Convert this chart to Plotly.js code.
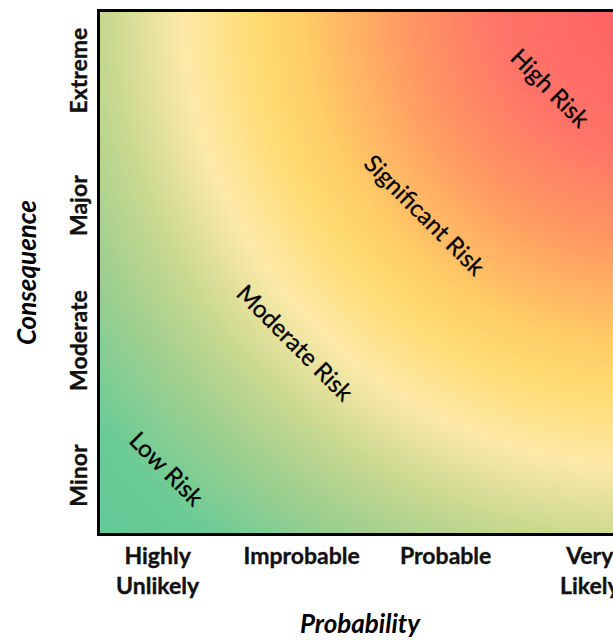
<!DOCTYPE html>
<html>
<head>
<meta charset="utf-8">
<script src="https://cdn.plot.ly/plotly-3.0.1.min.js"></script>
<style>
html, body { margin: 0; padding: 0; overflow: hidden; background: #fff; }
#chart { width: 630px; height: 640px; }
.xtick text, .ytick text { stroke: #111; stroke-width: 0.35px; }
.annotation-text { stroke: #000; stroke-width: 0.3px; }
</style>
</head>
<body>
<div id="chart"></div>
<script>
// Categories
const probabilityLabels = ["Highly<br>Unlikely", "Improbable", "Probable", "Very<br>Likely"];
const probabilityPos = [0.5, 1.5, 2.5, 3.5];
const consequenceLabels = ["Minor", "Moderate", "Major", "Extreme"];
const consequencePos = [0.5, 1.5, 2.5, 3.5];

// Risk zone labels (placed in category space)
const riskLabels = ["Low Risk", "Moderate Risk", "Significant Risk", "High Risk"];
const riskX = [0.57, 1.46, 2.36, 3.23];
const riskY = [0.58, 1.51, 2.46, 3.40];

// Background gradient (decoration)
const W = 520, H = 521;
const stops = [
  [0.00, "#ff5e62"], [0.19, "#ff7468"], [0.31, "#ff9a62"], [0.44, "#ffcf66"],
  [0.50, "#ffdc74"], [0.585, "#fde9a8"], [0.675, "#cad990"], [0.75, "#a4d08e"],
  [0.87, "#6acb96"], [1.00, "#5ec898"]
];
const svg = '<svg xmlns="http://www.w3.org/2000/svg" width="' + W + '" height="' + H +
  '" viewBox="0 0 ' + W + ' ' + H + '" preserveAspectRatio="none">' +
  '<defs><radialGradient id="g" gradientUnits="userSpaceOnUse" cx="550" cy="-12" r="800">' +
  stops.map(s => '<stop offset="' + s[0] + '" stop-color="' + s[1] + '"/>').join('') +
  '</radialGradient></defs><rect x="0" y="0" width="' + W + '" height="' + H + '" fill="url(#g)"/></svg>';
const bgSrc = 'data:image/svg+xml;charset=utf-8,' + encodeURIComponent(svg);

const FONT = "Lato, 'Open Sans', sans-serif";
const bold = s => s.split('<br>').map(p => '<b>' + p + '</b>').join('<br>');

const data = [{
  x: riskX, y: riskY, type: 'scatter', mode: 'markers',
  marker: { opacity: 0 }, hoverinfo: 'skip', showlegend: false
}];

const layout = {
  width: 630, height: 640,
  margin: { l: 100, r: 10, t: 12, b: 107 },
  paper_bgcolor: '#ffffff', plot_bgcolor: 'rgba(0,0,0,0)',
  showlegend: false,
  font: { family: FONT, color: '#000' },
  xaxis: {
    range: [0.1, 3.71], tickvals: probabilityPos, ticktext: probabilityLabels.map(bold),
    showgrid: false, zeroline: false, showline: true, linecolor: '#000', linewidth: 3, mirror: true,
    ticks: '', tickfont: { family: FONT, size: 23, color: '#111' },
    ticklabelstandoff: 0,
    title: { text: "<b><i>Probability</i></b>", font: { family: FONT, size: 26, color: '#000' }, standoff: 18 },
    fixedrange: true
  },
  yaxis: {
    range: [0.1, 3.96], tickvals: consequencePos, ticktext: consequenceLabels.map(bold),
    showgrid: false, zeroline: false, showline: true, linecolor: '#000', linewidth: 3, mirror: true,
    ticks: '', tickangle: -90, tickfont: { family: FONT, size: 23, color: '#111' },
    ticklabelstandoff: 1,
    title: { text: "<b><i>Consequence</i></b>", font: { family: FONT, size: 26, color: '#000' }, standoff: 20 },
    fixedrange: true
  },
  images: [{
    source: bgSrc, xref: 'paper', yref: 'paper', x: 0, y: 1, sizex: 1, sizey: 1,
    sizing: 'stretch', xanchor: 'left', yanchor: 'top', layer: 'below'
  }],
  annotations: riskLabels.map((t, i) => ({
    x: riskX[i], y: riskY[i], xref: 'x', yref: 'y', text: t, showarrow: false,
    textangle: 45, font: { family: FONT, size: 24, color: '#000' }
  }))
};

Plotly.newPlot('chart', data, layout, { displayModeBar: false, staticPlot: true });
</script>
</body>
</html>
